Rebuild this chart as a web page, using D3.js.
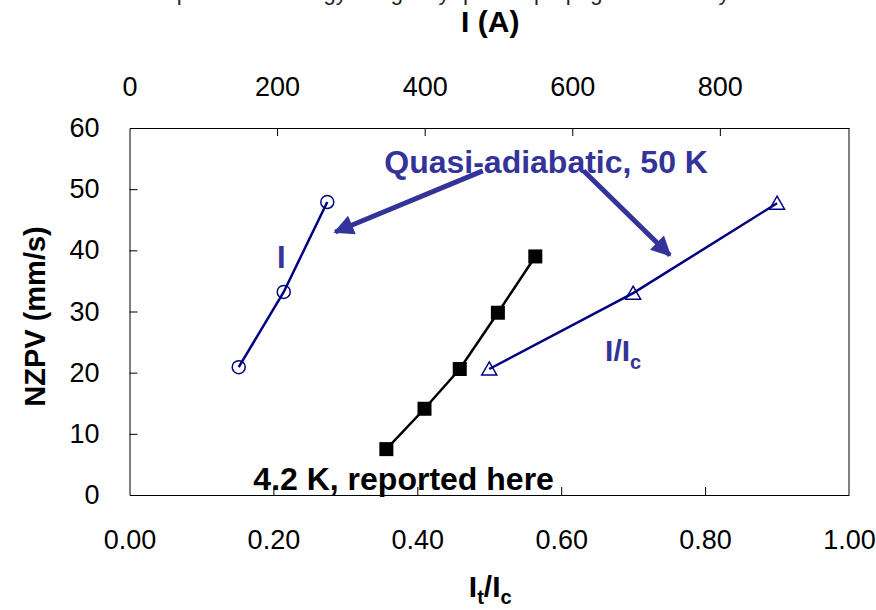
<!DOCTYPE html>
<html>
<head>
<meta charset="utf-8">
<script src="https://cdn.jsdelivr.net/npm/d3@7"></script>
<style>
  body { margin: 0; background: #fff; }
  svg text { font-family: "Liberation Sans", Arial, sans-serif; }
</style>
</head>
<body>
<div id="chart"></div>
<script>
// 4.2 K measurements (It/Ic vs NZPV)
const sqRatio = [0.357, 0.410, 0.459, 0.512, 0.564];
const sqNzpv  = [7.5, 14.1, 20.6, 29.8, 39.0];

// quasi-adiabatic 50 K, against current I (top axis)
const circCurrent = [148, 209, 268];
const circNzpv    = [20.9, 33.2, 47.9];

// quasi-adiabatic 50 K, against I/Ic (bottom axis)
const triRatio = [0.50, 0.70, 0.90];
const triNzpv  = [20.6, 33.0, 47.7];

const bottomTicks = [0, 0.2, 0.4, 0.6, 0.8, 1.0];
const topTicks = [0, 200, 400, 600, 800];
const leftTicks = [0, 10, 20, 30, 40, 50, 60];

const blue = "#000080";
const note = "#333399";

const W = 876, H = 610;
const margin = {top: 128, right: 27, bottom: 115, left: 129.5};
const width = W - margin.left - margin.right;
const height = H - margin.top - margin.bottom;

const svg = d3.select("#chart").append("svg")
    .attr("width", W)
    .attr("height", H);

// cut-off title line at the very top
svg.append("text")
    .attr("x", 430)
    .attr("y", 0)
    .attr("text-anchor", "middle")
    .style("font-size", "22px")
    .attr("fill", "#222")
    .text("Comparison of energy margin by quench propagation velocity");

const g = svg.append("g")
    .attr("transform", `translate(${margin.left},${margin.top})`);

const x = d3.scaleLinear().domain([0, 1]).range([0, width]);
const xTop = d3.scaleLinear().domain([0, 975]).range([0, width]);
const y = d3.scaleLinear().domain([0, 60]).range([height, 0]);

// axes, ticks pointing inward
g.append("g")
    .attr("class", "axis")
    .attr("transform", `translate(0,${height})`)
    .call(d3.axisBottom(x).tickValues(bottomTicks).tickFormat(d3.format(".2f"))
        .tickSizeInner(-8).tickSizeOuter(0).tickPadding(35));

g.append("g")
    .attr("class", "axis")
    .call(d3.axisTop(xTop).tickValues(topTicks).tickFormat(d3.format("d"))
        .tickSizeInner(-8).tickSizeOuter(0).tickPadding(32));

g.append("g")
    .attr("class", "axis")
    .call(d3.axisLeft(y).tickValues(leftTicks)
        .tickSizeInner(-8).tickSizeOuter(0).tickPadding(30));

g.selectAll(".axis text")
    .style("font-size", "27px")
    .attr("fill", "#000");
g.selectAll(".axis path").attr("stroke", "#000");
g.selectAll(".axis line").attr("stroke", "#000");
// drop the ticks that sit on the frame corners
g.selectAll(".axis .tick line").filter(d => d === 0 || d === 1 || d === 60).remove();

g.append("line")
    .attr("x1", width).attr("x2", width)
    .attr("y1", 0).attr("y2", height)
    .attr("stroke", "#000");

// axis titles
svg.append("text")
    .attr("x", margin.left + width / 2 + 1)
    .attr("y", 32)
    .attr("text-anchor", "middle")
    .style("font-size", "30px")
    .style("font-weight", "bold")
    .text("I (A)");

const bt = svg.append("text")
    .attr("x", margin.left + width / 2 + 1)
    .attr("y", 597)
    .attr("text-anchor", "middle")
    .style("font-size", "30px")
    .style("font-weight", "bold");
bt.append("tspan").text("I");
bt.append("tspan").attr("dy", 7).style("font-size", "20px").text("t");
bt.append("tspan").attr("dy", -7).text("/I");
bt.append("tspan").attr("dy", 7).style("font-size", "20px").text("c");

svg.append("text")
    .attr("transform", `translate(45,${margin.top + height / 2 + 5}) rotate(-90)`)
    .attr("text-anchor", "middle")
    .style("font-size", "29px")
    .style("font-weight", "bold")
    .text("NZPV (mm/s)");

// arrows
const defs = svg.append("defs");
defs.append("marker")
    .attr("id", "head")
    .attr("viewBox", "0 0 10 10")
    .attr("refX", 9).attr("refY", 5)
    .attr("markerWidth", 5).attr("markerHeight", 4)
    .attr("markerUnits", "strokeWidth")
    .attr("orient", "auto")
  .append("path")
    .attr("d", "M0,0L10,5L0,10Z")
    .attr("fill", note);

const arrows = [
    {from: [0.491, 53.0], to: [0.286, 43.0]},
    {from: [0.631, 53.0], to: [0.751, 39.2]}
];
g.selectAll(".arrow")
    .data(arrows)
    .enter()
    .append("line")
    .attr("class", "arrow")
    .attr("x1", d => x(d.from[0]))
    .attr("y1", d => y(d.from[1]))
    .attr("x2", d => x(d.to[0]))
    .attr("y2", d => y(d.to[1]))
    .attr("stroke", note)
    .attr("stroke-width", 5)
    .attr("marker-end", "url(#head)");

// series lines
const sqData = sqRatio.map((v, i) => ({x: v, y: sqNzpv[i]}));
const circData = circCurrent.map((v, i) => ({x: v, y: circNzpv[i]}));
const triData = triRatio.map((v, i) => ({x: v, y: triNzpv[i]}));

g.append("path")
    .datum(circData)
    .attr("fill", "none")
    .attr("stroke", blue)
    .attr("stroke-width", 2.5)
    .attr("d", d3.line().x(d => xTop(d.x)).y(d => y(d.y)));

g.append("path")
    .datum(triData)
    .attr("fill", "none")
    .attr("stroke", blue)
    .attr("stroke-width", 2.5)
    .attr("d", d3.line().x(d => x(d.x)).y(d => y(d.y)));

g.append("path")
    .datum(sqData)
    .attr("fill", "none")
    .attr("stroke", "#000")
    .attr("stroke-width", 2.5)
    .attr("d", d3.line().x(d => x(d.x)).y(d => y(d.y)));

// markers
g.selectAll(".circ")
    .data(circData)
    .enter()
    .append("circle")
    .attr("cx", d => xTop(d.x))
    .attr("cy", d => y(d.y))
    .attr("r", 6.5)
    .attr("fill", "none")
    .attr("stroke", blue)
    .attr("stroke-width", 1.5);

g.selectAll(".tri")
    .data(triData)
    .enter()
    .append("path")
    .attr("transform", d => `translate(${x(d.x)},${y(d.y)})`)
    .attr("d", "M0,-7L7.5,6L-7.5,6Z")
    .attr("fill", "none")
    .attr("stroke", blue)
    .attr("stroke-width", 1.5);

g.selectAll(".sq")
    .data(sqData)
    .enter()
    .append("rect")
    .attr("x", d => x(d.x) - 7)
    .attr("y", d => y(d.y) - 7)
    .attr("width", 14)
    .attr("height", 14)
    .attr("fill", "#000");

// annotations
g.append("text")
    .attr("x", x(0.579))
    .attr("y", y(52.6))
    .attr("text-anchor", "middle")
    .style("font-size", "32px")
    .style("font-weight", "bold")
    .attr("fill", note)
    .text("Quasi-adiabatic, 50 K");

g.append("text")
    .attr("x", x(0.211))
    .attr("y", y(37.1))
    .attr("text-anchor", "middle")
    .style("font-size", "31px")
    .style("font-weight", "bold")
    .attr("fill", note)
    .text("I");

const ic = g.append("text")
    .attr("x", x(0.661))
    .attr("y", y(21.9))
    .style("font-size", "30px")
    .style("font-weight", "bold")
    .attr("fill", note);
ic.append("tspan").text("I/I");
ic.append("tspan").attr("dy", 8).style("font-size", "20px").text("c");

g.append("text")
    .attr("x", x(0.381))
    .attr("y", y(0.8))
    .attr("text-anchor", "middle")
    .style("font-size", "32px")
    .style("font-weight", "bold")
    .attr("fill", "#000")
    .text("4.2 K, reported here");
</script>
</body>
</html>
